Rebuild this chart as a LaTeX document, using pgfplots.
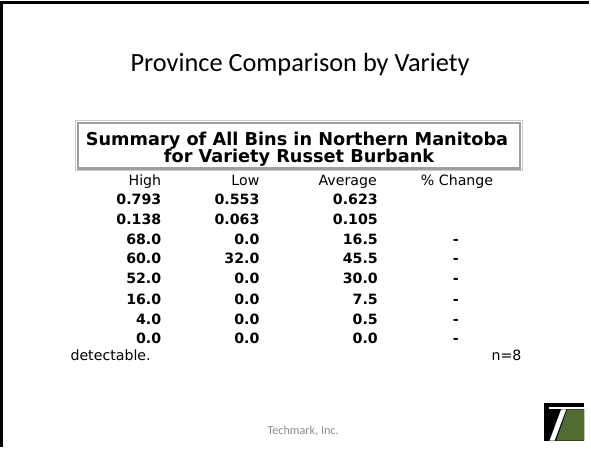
\documentclass[border=0pt]{standalone}
\usepackage{fontspec}
\usepackage{pgfplots}
\pgfplotsset{compat=1.18}
\usepackage{pgfplotstable}
\setmainfont{Carlito}
\newfontfamily\vf{DejaVu Sans}
\definecolor{tgreen}{RGB}{80,108,50}
\definecolor{footgray}{RGB}{140,140,140}

% table rows: baseline (px from top) and the three columns
\pgfplotstableread{
y    high  low   avg
204  0.793 0.553 0.623
223  0.138 0.063 0.105
243  68.0  0.0   16.5
262  60.0  32.0  45.5
282  52.0  0.0   30.0
302  16.0  0.0   7.5
322  4.0   0.0   0.5
341  0.0   0.0   0.0
}\rows

\begin{document}
\begin{tikzpicture}
\begin{axis}[
  scale only axis, width=591pt, height=445pt,
  xmin=-6, xmax=585, ymin=-2, ymax=443, y dir=reverse,
  hide axis, clip=false,
  point meta=explicit symbolic,
  nodes near coords,
  every node near coord/.append style={inner sep=0pt},
]
% slide frame
\addplot[draw=black, line width=3pt, mark=none, nodes near coords={}]
  coordinates {(4,443)(4,4)(585,4)};
% boxed heading
\addplot[draw=gray!40, fill=white, line width=1pt, mark=none, nodes near coords={}]
  coordinates {(77.5,121)(518.5,121)(518.5,170)(77.5,170)} -- cycle;
\addplot[draw=gray!75, line width=2.2pt, mark=none, nodes near coords={}]
  coordinates {(79.5,123)(516.5,123)(516.5,168)(79.5,168)} -- cycle;
% title
\addplot[draw=none, mark=none, nodes near coords style={anchor=base, font=\fontsize{26}{30}\selectfont}]
  coordinates {(299,72) [Province Comparison by Variety]};
\addplot[draw=none, mark=none, nodes near coords style={anchor=base, font=\vf\bfseries\fontsize{17.5}{20}\selectfont}]
  coordinates {(296,145) [Summary of All Bins in Northern Manitoba]
               (298,162) [for Variety Russet Burbank]};
% column heads
\addplot[draw=none, mark=none, nodes near coords style={anchor=base east, font=\vf\fontsize{14}{16}\selectfont}]
  coordinates {(162,185) [High] (259,185) [Low] (375,185) [Average] (490,185) [\% Change]};
% values
\addplot[draw=none, mark=none, nodes near coords style={anchor=base east, font=\vf\bfseries\fontsize{14}{16}\selectfont}]
  table[x expr=162, y=y, meta=high] {\rows};
\addplot[draw=none, mark=none, nodes near coords style={anchor=base east, font=\vf\bfseries\fontsize{14}{16}\selectfont}]
  table[x expr=259, y=y, meta=low] {\rows};
\addplot[draw=none, mark=none, nodes near coords style={anchor=base east, font=\vf\bfseries\fontsize{14}{16}\selectfont}]
  table[x expr=376, y=y, meta=avg] {\rows};
\addplot[draw=none, mark=none, nodes near coords style={anchor=base, font=\vf\bfseries\fontsize{14}{16}\selectfont}]
  coordinates {(453,243) [-] (453,262) [-] (453,282) [-] (453,302) [-] (453,322) [-] (453,341) [-]};
% notes under the table
\addplot[draw=none, mark=none, nodes near coords style={anchor=base west, font=\vf\fontsize{14}{16}\selectfont}]
  coordinates {(72,358) [detectable.]};
\addplot[draw=none, mark=none, nodes near coords style={anchor=base east, font=\vf\fontsize{14}{16}\selectfont}]
  coordinates {(518,358) [n=8]};
% footer
\addplot[draw=none, mark=none, nodes near coords style={anchor=base, text=footgray, font=\fontsize{12}{14}\selectfont}]
  coordinates {(302,431) [Techmark, Inc.]};
% logo
\addplot[fill=black, draw=none, mark=none, nodes near coords={}]
  coordinates {(540,400)(580,400)(580,437)(540,437)} -- cycle;
\addplot[fill=tgreen, draw=none, mark=none, nodes near coords={}]
  coordinates {(563,406)(580,406)(580,437)(552,437)} -- cycle;
\addplot[fill=white, draw=none, mark=none, nodes near coords={}]
  coordinates {(557,406)(562,406)(550.5,437)(545.5,437)} -- cycle;
\addplot[fill=white, draw=none, mark=none, nodes near coords={}]
  coordinates {(545,404)(580,404)(580,405.5)(545,405.5)} -- cycle;
\end{axis}
\end{tikzpicture}
\end{document}
